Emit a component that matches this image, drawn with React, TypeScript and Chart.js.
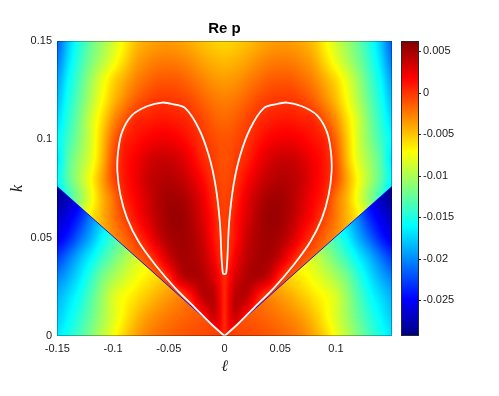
import React, { useEffect, useRef } from "react";
import { Chart, registerables } from "chart.js";

Chart.register(...registerables);

// |ℓ| columns of the read-off grids (the picture is mirror-symmetric in ℓ)
const L_ABS = [0, 0.005, 0.01, 0.02, 0.03, 0.04, 0.05, 0.06, 0.07, 0.08, 0.09, 0.1, 0.11, 0.12, 0.13, 0.14, 0.15];

// k rows of the field above the cone line (k > |ℓ|/2)
const K_IN = [0, 0.01, 0.02, 0.03, 0.04, 0.05, 0.06, 0.07, 0.08, 0.09, 0.1, 0.11, 0.12, 0.13, 0.14, 0.15];
const RE_P_IN = [
  [0.0004, 0.0015, 0.0005, -0.0008, -0.0015, -0.0022, -0.003, -0.004, -0.0052, -0.0066, -0.0082, -0.01, -0.012, -0.014, -0.016, -0.018, -0.02],
  [0.0004, 0.0025, 0.0035, 0.0012, -0.0005, -0.0015, -0.0025, -0.0035, -0.0047, -0.006, -0.0075, -0.0092, -0.0112, -0.0132, -0.0152, -0.0172, -0.0192],
  [0.0004, 0.0025, 0.0042, 0.004, 0.0012, -0.0008, -0.0015, -0.0025, -0.0035, -0.0048, -0.0063, -0.008, -0.01, -0.012, -0.014, -0.016, -0.018],
  [0.0003, 0.0018, 0.0032, 0.0045, 0.0046, 0.0035, 0.0006, -0.0012, -0.0025, -0.004, -0.0054, -0.007, -0.0088, -0.0106, -0.0125, -0.0145, -0.0165],
  [-0.0004, 0.0008, 0.0022, 0.004, 0.0048, 0.0048, 0.0035, 0.0012, -0.0006, -0.0018, -0.003, -0.0042, -0.0056, -0.0072, -0.009, -0.0108, -0.0125],
  [-0.0005, 0.0004, 0.0014, 0.0036, 0.0047, 0.0051, 0.0047, 0.0034, 0.0014, -0.0002, -0.0018, -0.0032, -0.0048, -0.0065, -0.0085, -0.0105, -0.0125],
  [-0.0004, 0.0001, 0.0012, 0.003, 0.0045, 0.0053, 0.0051, 0.0042, 0.0027, 0.0012, -0.0006, -0.0024, -0.0045, -0.0065, -0.009, -0.012, -0.015],
  [-0.0005, -0.0002, 0.0006, 0.0025, 0.004, 0.0049, 0.005, 0.0044, 0.0032, 0.0018, 0.0005, -0.0022, -0.0046, -0.0078, -0.011, -0.014, -0.017],
  [-0.0008, -0.0005, 0.0001, 0.0016, 0.003, 0.004, 0.0044, 0.0042, 0.0035, 0.0022, 0.001, -0.0008, -0.004, -0.0072, -0.01, -0.0128, -0.016],
  [-0.001, -0.0008, -0.0003, 0.0006, 0.002, 0.0031, 0.0036, 0.0036, 0.003, 0.002, 0.001, -0.001, -0.0048, -0.0082, -0.0105, -0.013, -0.0168],
  [-0.0011, -0.001, -0.0007, 0.0, 0.001, 0.0018, 0.0022, 0.0022, 0.0018, 0.0012, 0.0005, -0.0018, -0.0052, -0.0086, -0.0113, -0.0138, -0.0162],
  [-0.0018, -0.0017, -0.0014, -0.0006, 0.0002, 0.0007, 0.001, 0.001, 0.0007, 0.0004, -0.0012, -0.0032, -0.006, -0.0088, -0.0118, -0.0145, -0.0172],
  [-0.0026, -0.0025, -0.0023, -0.0016, -0.0008, -0.0003, -0.0001, -0.0001, -0.0006, -0.0015, -0.003, -0.0048, -0.0072, -0.0098, -0.0126, -0.0152, -0.0182],
  [-0.0036, -0.0035, -0.0033, -0.0027, -0.002, -0.0014, -0.0012, -0.0013, -0.0019, -0.0028, -0.0042, -0.0058, -0.008, -0.0105, -0.0133, -0.016, -0.0192],
  [-0.0047, -0.0046, -0.0044, -0.0039, -0.0032, -0.0027, -0.0025, -0.0026, -0.0031, -0.004, -0.0058, -0.0078, -0.0098, -0.0118, -0.0142, -0.017, -0.0205],
  [-0.0057, -0.0056, -0.0054, -0.0049, -0.0043, -0.0038, -0.0036, -0.0037, -0.0041, -0.005, -0.0068, -0.0087, -0.0105, -0.0124, -0.0148, -0.0178, -0.0215],
];

// k rows of the field below the cone line (k < |ℓ|/2)
const K_OUT = [0, 0.01, 0.02, 0.03, 0.04, 0.05, 0.06, 0.07, 0.08];
const RE_P_OUT = [
  [0.0002, -0.0002, -0.0005, -0.0007, -0.0009, -0.0012, -0.0016, -0.0021, -0.0028, -0.004, -0.0056, -0.0076, -0.0096, -0.0116, -0.0136, -0.0153, -0.0167],
  [-0.0003, -0.0006, -0.0009, -0.0012, -0.0015, -0.0019, -0.0024, -0.003, -0.0038, -0.005, -0.0066, -0.0084, -0.0104, -0.0125, -0.0145, -0.0162, -0.0177],
  [-0.001, -0.0012, -0.0015, -0.0018, -0.0022, -0.0028, -0.0035, -0.0043, -0.0052, -0.0062, -0.0072, -0.0085, -0.0108, -0.0132, -0.0155, -0.0172, -0.0186],
  [-0.002, -0.0022, -0.0025, -0.003, -0.0036, -0.0043, -0.005, -0.0058, -0.0066, -0.0076, -0.0088, -0.0102, -0.012, -0.0145, -0.0168, -0.0188, -0.0203],
  [-0.003, -0.0032, -0.0035, -0.0041, -0.0048, -0.0056, -0.0064, -0.0072, -0.008, -0.0088, -0.0104, -0.0122, -0.0142, -0.0164, -0.0185, -0.0208, -0.0228],
  [-0.004, -0.0042, -0.0045, -0.0052, -0.006, -0.0068, -0.0077, -0.0086, -0.0096, -0.0107, -0.0122, -0.014, -0.0162, -0.0188, -0.0213, -0.0238, -0.0255],
  [-0.005, -0.0052, -0.0055, -0.0062, -0.007, -0.008, -0.009, -0.01, -0.0112, -0.0125, -0.014, -0.016, -0.018, -0.0205, -0.0235, -0.0255, -0.0268],
  [-0.006, -0.0062, -0.0065, -0.0072, -0.008, -0.009, -0.01, -0.0112, -0.0125, -0.014, -0.0158, -0.0178, -0.02, -0.0228, -0.0252, -0.0272, -0.0283],
  [-0.007, -0.0072, -0.0075, -0.0082, -0.009, -0.01, -0.0112, -0.0125, -0.014, -0.0156, -0.0175, -0.0196, -0.022, -0.0245, -0.0268, -0.0285, -0.0292],
];

// blue cone line
const CONE_L = [-0.15, 0, 0.15];
const CONE_K = [0.0759, 0, 0.0759];

// white zero contour (closed, heart shaped)
const CONTOUR_L = [
  0, -0.011, -0.026, -0.044, -0.062, -0.077, -0.0874, -0.0934, -0.0961, -0.0955, -0.0919, -0.0829, -0.0695, -0.056, -0.0455, -0.035, -0.0231, -0.0141, -0.0081, -0.0042, -0.0015,
  0.0015, 0.0042, 0.0081, 0.0141, 0.0231, 0.035, 0.0455, 0.056, 0.0695, 0.0829, 0.0919, 0.0955, 0.0961, 0.0934, 0.0874, 0.077, 0.062, 0.044, 0.026, 0.011, 0,
];
const CONTOUR_K = [
  0, 0.0056, 0.0141, 0.0242, 0.0361, 0.0479, 0.0598, 0.0716, 0.0835, 0.0936, 0.1038, 0.1123, 0.1168, 0.1187, 0.1178, 0.1157, 0.1055, 0.0919, 0.0767, 0.0581, 0.0319,
  0.0319, 0.0581, 0.0767, 0.0919, 0.1055, 0.1157, 0.1178, 0.1187, 0.1168, 0.1123, 0.1038, 0.0936, 0.0835, 0.0716, 0.0598, 0.0479, 0.0361, 0.0242, 0.0141, 0.0056, 0,
];

const X_TICKS = [-0.15, -0.1, -0.05, 0, 0.05, 0.1];
const X_TICK_LABELS = ["-0.15", "-0.1", "-0.05", "0", "0.05", "0.1"];
const Y_TICKS = [0, 0.05, 0.1, 0.15];
const Y_TICK_LABELS = ["0", "0.05", "0.1", "0.15"];
const CB_TICKS = [-0.025, -0.02, -0.015, -0.01, -0.005, 0, 0.005];
const CB_TICK_LABELS = ["-0.025", "-0.02", "-0.015", "-0.01", "-0.005", "0", "0.005"];
const C_MIN = -0.02934;
const C_MAX = 0.00625;

const SANS = "'Liberation Sans', Arial, Helvetica, sans-serif";
const SERIF = "'Liberation Serif', 'DejaVu Serif', serif";

function clamp01(v: number) {
  return v < 0 ? 0 : v > 1 ? 1 : v;
}

function jet(t: number): [number, number, number] {
  t = clamp01(t);
  const r = clamp01(Math.min(4 * t - 1.5, -4 * t + 4.5));
  const g = clamp01(Math.min(4 * t - 0.5, -4 * t + 3.5));
  const b = clamp01(Math.min(4 * t + 0.5, -4 * t + 2.5));
  return [Math.round(r * 255), Math.round(g * 255), Math.round(b * 255)];
}

// fractional index of v inside a sorted axis
function fracIndex(axis: number[], v: number) {
  if (v <= axis[0]) return 0;
  const n = axis.length;
  if (v >= axis[n - 1]) return n - 1;
  let i = 0;
  while (i < n - 2 && v > axis[i + 1]) i++;
  return i + (v - axis[i]) / (axis[i + 1] - axis[i]);
}

function cr(p0: number, p1: number, p2: number, p3: number, t: number) {
  const t2 = t * t;
  const t3 = t2 * t;
  return 0.5 * (2 * p1 + (-p0 + p2) * t + (2 * p0 - 5 * p1 + 4 * p2 - p3) * t2 + (-p0 + 3 * p1 - 3 * p2 + p3) * t3);
}

// smooth (Catmull-Rom) shading between the read-off grid nodes
function shade(grid: number[][], rows: number[], cols: number[], la: number, k: number) {
  const u = fracIndex(cols, la);
  const w = fracIndex(rows, k);
  const nc = cols.length;
  const nr = rows.length;
  const i = Math.min(Math.floor(u), nc - 2);
  const j = Math.min(Math.floor(w), nr - 2);
  const tx = u - i;
  const ty = w - j;
  const ci = (q: number) => Math.max(0, Math.min(nc - 1, q));
  const rj = (q: number) => Math.max(0, Math.min(nr - 1, q));
  const rowVal = (r: number) => {
    const g = grid[rj(r)];
    return cr(g[ci(i - 1)], g[ci(i)], g[ci(i + 1)], g[ci(i + 2)], tx);
  };
  return cr(rowVal(j - 1), rowVal(j), rowVal(j + 1), rowVal(j + 2), ty);
}

const heatmapPlugin = {
  id: "heatmap",
  beforeDatasetsDraw(chart: any) {
    const { ctx, chartArea: a, scales } = chart;
    const xs = scales.x;
    const ys = scales.y;
    const left = Math.round(a.left);
    const top = Math.round(a.top);
    const w = Math.round(a.right) - left;
    const h = Math.round(a.bottom) - top;
    const img = ctx.createImageData(w, h);
    const slope = CONE_K[0] / Math.abs(CONE_L[0]);
    for (let py = 0; py < h; py++) {
      const k = ys.getValueForPixel(top + py + 0.5);
      for (let px = 0; px < w; px++) {
        const l = xs.getValueForPixel(left + px + 0.5);
        const la = Math.abs(l);
        const v = k >= slope * la
          ? shade(RE_P_IN, K_IN, L_ABS, la, k)
          : shade(RE_P_OUT, K_OUT, L_ABS, la, k);
        const [r, g, b] = jet((v - C_MIN) / (C_MAX - C_MIN));
        const o = (py * w + px) * 4;
        img.data[o] = r;
        img.data[o + 1] = g;
        img.data[o + 2] = b;
        img.data[o + 3] = 255;
      }
    }
    ctx.putImageData(img, left, top);
  },
  afterDatasetsDraw(chart: any) {
    const { ctx, chartArea: a } = chart;
    ctx.save();
    ctx.strokeStyle = "rgba(0,0,0,0.3)";
    ctx.lineWidth = 1;
    ctx.strokeRect(Math.round(a.left) + 0.5, Math.round(a.top) + 0.5, Math.round(a.right - a.left) - 1, Math.round(a.bottom - a.top) - 1);
    ctx.restore();
  },
};

const colorbarPlugin = {
  id: "colorbar",
  afterDraw(chart: any) {
    const { ctx } = chart;
    const cb = chart.scales.cb;
    const x0 = Math.round(cb.left) + 9;
    const bw = 18;
    const top = Math.round(cb.top);
    const bottom = Math.round(cb.bottom);
    ctx.save();
    for (let py = top; py < bottom; py++) {
      const v = cb.getValueForPixel(py + 0.5);
      const [r, g, b] = jet((v - C_MIN) / (C_MAX - C_MIN));
      ctx.fillStyle = `rgb(${r},${g},${b})`;
      ctx.fillRect(x0, py, bw, 1);
    }
    ctx.strokeStyle = "#262626";
    ctx.lineWidth = 1;
    ctx.strokeRect(x0 + 0.5, top + 0.5, bw - 1, bottom - top - 1);
    for (const t of CB_TICKS) {
      const y = Math.round(cb.getPixelForValue(t)) + 0.5;
      ctx.beginPath();
      ctx.moveTo(x0 + bw - 1, y);
      ctx.lineTo(x0 + bw + 2, y);
      ctx.stroke();
    }
    ctx.restore();
  },
};

export default function App() {
  const ref = useRef<HTMLCanvasElement | null>(null);

  useEffect(() => {
    document.body.style.margin = "0";
    const canvas = ref.current;
    if (!canvas) return;
    const chart = new Chart(canvas, {
      type: "scatter",
      data: {
        datasets: [
          {
            label: "Re p = 0",
            data: CONTOUR_L.map((l, i) => ({ x: l, y: CONTOUR_K[i] })),
            showLine: true,
            borderColor: "#ffffff",
            borderWidth: 1.8,
            pointRadius: 0,
            tension: 0.35,
            fill: false,
          },
          {
            label: "cone",
            data: CONE_L.map((l, i) => ({ x: l, y: CONE_K[i] })),
            showLine: true,
            borderColor: "rgb(20,20,255)",
            borderWidth: 1,
            pointRadius: 0,
            tension: 0,
            fill: false,
          },
        ],
      },
      options: {
        animation: false,
        responsive: false,
        maintainAspectRatio: false,
        devicePixelRatio: 1,
        events: [],
        layout: { padding: 0 },
        plugins: {
          legend: { display: false },
          tooltip: { enabled: false },
          title: {
            display: true,
            text: "Re p",
            fullSize: false,
            color: "#000",
            font: { family: SANS, size: 15, weight: "bold" },
            padding: { top: 20, bottom: 3 },
          },
        },
        scales: {
          x: {
            type: "linear",
            position: "bottom",
            min: -0.1503,
            max: 0.1503,
            grid: { display: false, drawTicks: false },
            border: { display: false },
            afterBuildTicks: (s: any) => {
              s.ticks = X_TICKS.map((v) => ({ value: v }));
            },
            afterFit: (s: any) => {
              s.height = 60;
            },
            ticks: {
              autoSkip: false,
              maxRotation: 0,
              padding: 6,
              color: "#1a1a1a",
              font: { family: SANS, size: 11 },
              callback: (v: any) => {
                const i = X_TICKS.findIndex((t) => Math.abs(t - v) < 1e-9);
                return i >= 0 ? X_TICK_LABELS[i] : "";
              },
            },
            title: {
              display: true,
              text: "ℓ",
              color: "#1a1a1a",
              font: { family: SERIF, size: 16, style: "italic" },
              padding: { top: 0, bottom: 20 },
            },
          },
          y: {
            type: "linear",
            position: "left",
            min: 0,
            max: 0.15,
            grid: { display: false, drawTicks: false },
            border: { display: false },
            afterBuildTicks: (s: any) => {
              s.ticks = Y_TICKS.map((v) => ({ value: v }));
            },
            afterFit: (s: any) => {
              s.width = 57;
            },
            ticks: {
              autoSkip: false,
              padding: 5,
              color: "#1a1a1a",
              font: { family: SANS, size: 11 },
              callback: (v: any) => {
                const i = Y_TICKS.findIndex((t) => Math.abs(t - v) < 1e-9);
                return i >= 0 ? Y_TICK_LABELS[i] : "";
              },
            },
            title: {
              display: true,
              text: "k",
              color: "#1a1a1a",
              font: { family: SERIF, size: 16, style: "italic" },
              padding: { top: 8, bottom: 0 },
            },
          },
          cb: {
            type: "linear",
            position: "right",
            min: C_MIN,
            max: C_MAX,
            grid: { display: false, drawTicks: false },
            border: { display: false },
            afterBuildTicks: (s: any) => {
              s.ticks = CB_TICKS.map((v) => ({ value: v }));
            },
            afterFit: (s: any) => {
              s.width = 107;
            },
            ticks: {
              autoSkip: false,
              padding: 31,
              color: "#1a1a1a",
              font: { family: SANS, size: 11 },
              callback: (v: any) => {
                const i = CB_TICKS.findIndex((t) => Math.abs(t - v) < 1e-9);
                return i >= 0 ? CB_TICK_LABELS[i] : "";
              },
            },
          },
        },
      } as any,
      plugins: [heatmapPlugin, colorbarPlugin],
    });
    return () => chart.destroy();
  }, []);

  return (
    <div style={{ width: 499, height: 396 }}>
      <canvas ref={ref} width={499} height={396} style={{ display: "block" }} />
    </div>
  );
}
